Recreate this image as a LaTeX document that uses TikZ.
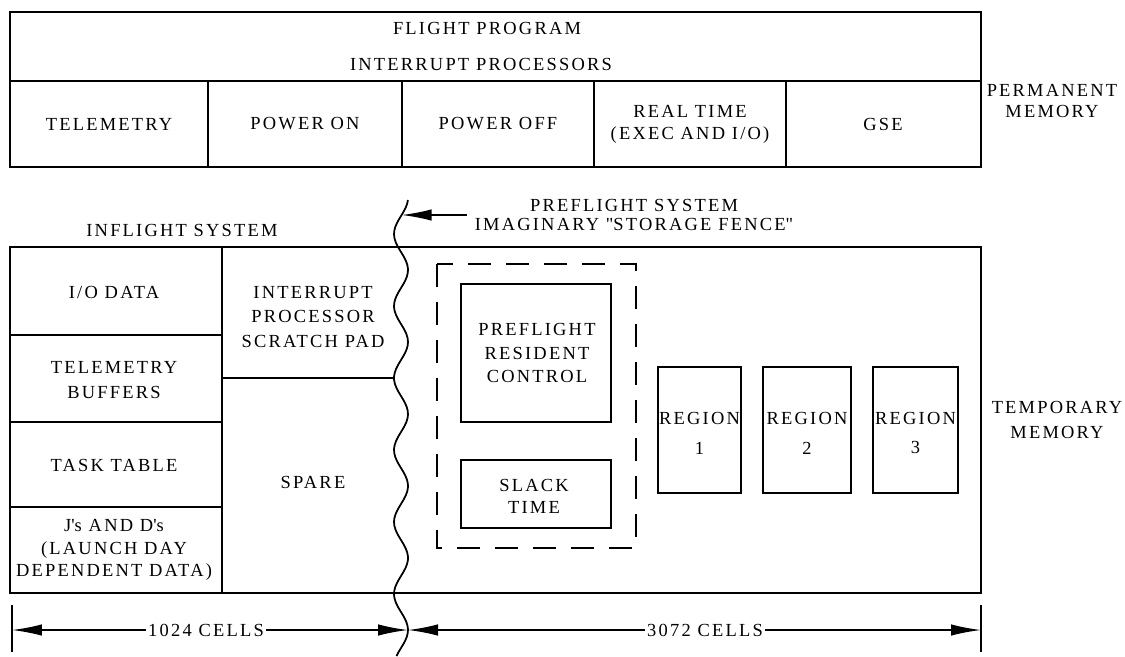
\documentclass[tikz,border=0pt]{standalone}
\usepackage{fontspec}
\setmainfont{Liberation Serif}[LetterSpace=12]
\usetikzlibrary{arrows.meta}

% x position of the wavy storage fence at height #1
\newcommand{\fencex}[1]{{401+7*sin(5*(#1-180))}}

\tikzset{
  lbl/.style={align=center, inner sep=1pt, font=\fontsize{10.5}{14.2}\selectfont},
  tight/.style={align=center, inner sep=1pt, font=\fontsize{10.5}{11}\selectfont},
  dimarrow/.style={-{Latex[length=6mm,width=2.3mm]}},
}

\begin{document}
\begin{tikzpicture}[x=0.02cm, y=-0.02cm, line width=1pt]

    \useasboundingbox (0,0) rectangle (1125,656);

    % permanent memory
    \draw (10,12) rectangle (981,167);
    \draw (10,81) -- (981,81);
    \foreach \x in {208,402,594,786}
    \draw (\x,81) -- (\x,167);

    \node (flight) [lbl] at (487,28) {FLIGHT PROGRAM};
    \node (interrupts) [lbl] at (481,64) {INTERRUPT PROCESSORS};

    \foreach \name/\x/\txt in {telemetry/109/TELEMETRY, poweron/305/POWER ON,
        poweroff/498/POWER OFF, realtime/690/{REAL TIME\\(EXEC AND I/O)}, gse/883/GSE}
    \node (\name) [lbl, font=\fontsize{10.5}{12.5}\selectfont] at (\x,124) {\txt};

    \node (permanent) [lbl, font=\fontsize{10.5}{12.5}\selectfont] at (1052,101) {PERMANENT\\MEMORY};

    % temporary memory
    \node (inflight) [lbl] at (182,230) {INFLIGHT SYSTEM};
    \node (fencelabel) [tight] at (634,215) {PREFLIGHT SYSTEM\\IMAGINARY \textquotedbl STORAGE FENCE\textquotedbl};

    \draw (10,247) rectangle (981,593);
    \draw (222,247) -- (222,593);
    \foreach \y in {335,422,507}
    \draw (10,\y) -- (222,\y);
    \draw (222,378) -- (\fencex{378},378);

    \node (iodata) [lbl] at (114,292) {I/O DATA};
    \node (buffers) [lbl] at (114,380) {TELEMETRY\\BUFFERS};
    \node (tasktable) [lbl] at (114,465) {TASK TABLE};
    \node (jsds) [lbl, font=\fontsize{10.5}{12.8}\selectfont] at (114,550) {J\textquotesingle s AND D\textquotesingle s\\(LAUNCH DAY\\DEPENDENT DATA)};
    \node (scratch) [lbl] at (313,317) {INTERRUPT\\PROCESSOR\\SCRATCH PAD};
    \node (spare) [lbl] at (313,482) {SPARE};

    \draw[dash pattern=on 0.46cm off 0.3cm] (437,264) rectangle (636,548);
    \draw (461,284) rectangle (611,422);
    \node (resident) [lbl, font=\fontsize{10.5}{13.5}\selectfont] at (537,353) {PREFLIGHT\\RESIDENT\\CONTROL};
    \draw (461,460) rectangle (611,528);
    \node (slack) [lbl, font=\fontsize{10.5}{12.5}\selectfont] at (534,496) {SLACK\\TIME};

    \foreach \n/\xa/\xb in {1/658/741, 2/763/851, 3/873/958} {
      \draw (\xa,367) rectangle (\xb,493);
      \node (region\n) [lbl, font=\fontsize{10.5}{17}\selectfont] at ({(\xa+\xb)/2},433) {REGION\\\n};
    }

    \node (temporary) [lbl, font=\fontsize{10.5}{14.5}\selectfont] at (1057,420) {TEMPORARY\\MEMORY};

    % storage fence
    \draw plot[domain=200:656, samples=120, smooth] ({\fencex{\x}},\x);
    \coordinate (fencetop) at (\fencex{215},215);
    \draw[dimarrow] ([xshift=-0.1cm]fencelabel.west) -- (fencetop);

    % cell counts
    \draw (12,605) -- (12,652);
    \draw (981,605) -- (981,652);
    \coordinate (tickleft) at (12,630);
    \coordinate (tickright) at (981,630);
    \coordinate (fencebottom) at (\fencex{630},630);

    \node (cellsin) [lbl] at (206,630) {1024 CELLS};
    \node (cellspre) [lbl] at (705,630) {3072 CELLS};

    \draw[dimarrow] (cellsin) -- (tickleft);
    \draw[dimarrow] (cellsin) -- (fencebottom);
    \draw[dimarrow] (cellspre) -- (fencebottom);
    \draw[dimarrow] (cellspre) -- (tickright);

\end{tikzpicture}
\end{document}
